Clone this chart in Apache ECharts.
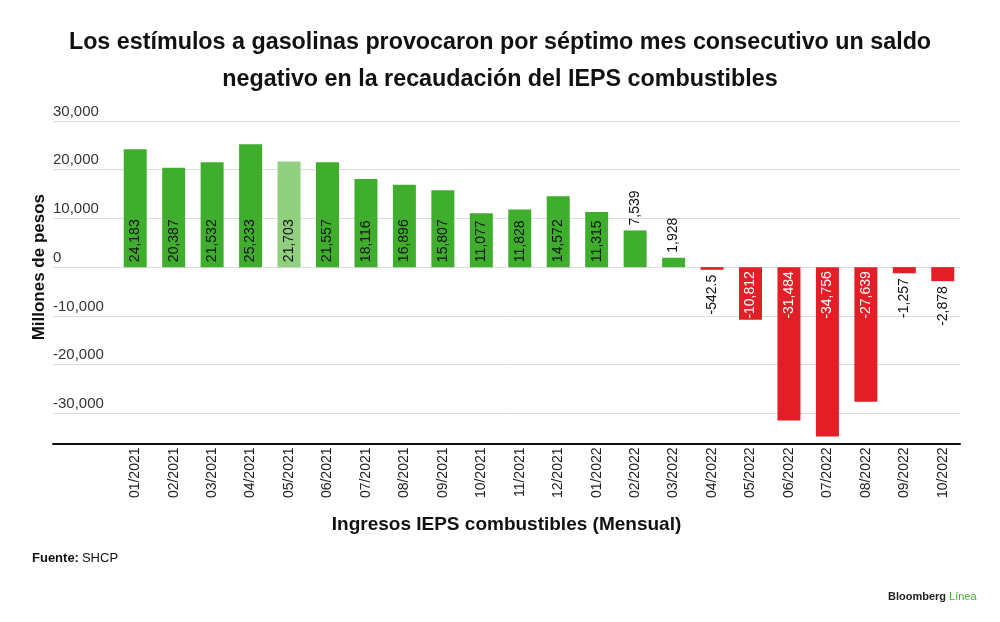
<!DOCTYPE html>
<html>
<head>
<meta charset="utf-8">
<script src="https://cdn.jsdelivr.net/npm/echarts@6/dist/echarts.min.js"></script>
<style>
  html, body { margin: 0; padding: 0; background: #fff; }
  #chart { width: 1000px; height: 622px; }
</style>
</head>
<body>
<div id="chart"></div>
<script>
// meses
var meses = ['01/2021','02/2021','03/2021','04/2021','05/2021','06/2021','07/2021','08/2021','09/2021','10/2021','11/2021','12/2021',
             '01/2022','02/2022','03/2022','04/2022','05/2022','06/2022','07/2022','08/2022','09/2022','10/2022'];
// recaudacion IEPS combustibles (millones de pesos)
var ingresos = [24183, 20387, 21532, 25233, 21703, 21557, 18116, 16896, 15807, 11077, 11828, 14572,
                11315, 7539, 1928, -542.5, -10812, -31484, -34756, -27639, -1257, -2878];
// etiquetas tal cual aparecen
var etiquetas = ['24,183','20,387','21,532','25,233','21,703','21,557','18,116','16,896','15,807','11,077','11,828','14,572',
                 '11,315','7,539','1,928','-542.5','-10,812','-31,484','-34,756','-27,639','-1,257','-2,878'];
var mesResaltado = '05/2021';

var verde = '#3fae2d';
var verdeClaro = '#8fcf7e';
var rojo = '#e31e26';
var fuente = '"Liberation Sans", Arial, sans-serif';

var datos = [];
for (var i = 0; i < ingresos.length; i++) {
    var v = ingresos[i];
    var dentro = Math.abs(v) >= 10000;
    var color = v < 0 ? rojo : (meses[i] === mesResaltado ? verdeClaro : verde);
    var lbl;
    if (v >= 0) {
        lbl = dentro
            ? { position: 'insideBottom', align: 'left', distance: 5, color: '#111' }
            : { position: 'top', align: 'left', distance: 5, color: '#111' };
    } else {
        lbl = dentro
            ? { position: 'insideTop', align: 'right', distance: 4, color: '#fff' }
            : { position: 'bottom', align: 'right', distance: 5, color: '#111' };
    }
    lbl.formatter = etiquetas[i];
    datos.push({ value: v, itemStyle: { color: color }, label: lbl });
}

var myChart = echarts.init(document.getElementById('chart'));
var option = {
    backgroundColor: '#fff',
    animation: false,
    title: [
        {
            text: 'Los estímulos a gasolinas provocaron por séptimo mes consecutivo un saldo\nnegativo en la recaudación del IEPS combustibles',
            left: 'center',
            top: 19,
            textStyle: { fontFamily: fuente, fontSize: 23.3, fontWeight: 'bold', color: '#111', lineHeight: 37 }
        },
        {
            text: '{b|Fuente:}{n|SHCP}',
            left: 27,
            top: 547,
            textStyle: {
                fontWeight: 'normal',
                rich: {
                    b: { fontFamily: fuente, fontSize: 13, fontWeight: 'bold', color: '#111', padding: [0, 3, 0, 0] },
                    n: { fontFamily: fuente, fontSize: 13, fontWeight: 'normal', color: '#111' }
                }
            }
        },
        {
            text: '{b|Bloomberg}{g|Línea}',
            left: 883,
            top: 586,
            textStyle: {
                fontWeight: 'normal',
                rich: {
                    b: { fontFamily: fuente, fontSize: 11, fontWeight: 'bold', color: '#222', padding: [0, 3, 0, 0] },
                    g: { fontFamily: fuente, fontSize: 11, fontWeight: 'normal', color: '#3fae2d' }
                }
            }
        }
    ],
    grid: [
        // lineas guia y eje
        { left: 53, right: 40, top: 121, bottom: 208.7 },
        // barras
        { left: 116, right: 38, top: 121, bottom: 179.5 }
    ],
    xAxis: [
        {
            gridIndex: 0,
            type: 'category',
            data: [],
            offset: 30,
            axisLine: { show: true, onZero: false, lineStyle: { color: '#111', width: 2 } },
            axisTick: { show: false },
            axisLabel: { show: false },
            name: 'Ingresos IEPS combustibles (Mensual)',
            nameLocation: 'middle',
            nameGap: 72,
            nameTextStyle: { fontFamily: fuente, fontSize: 19, fontWeight: 'bold', color: '#111' }
        },
        {
            gridIndex: 1,
            type: 'category',
            data: meses,
            axisLine: { show: false },
            axisTick: { show: false },
            axisLabel: { rotate: 90, margin: 5, fontFamily: fuente, fontSize: 14, color: '#222', interval: 0 }
        }
    ],
    yAxis: [
        {
            gridIndex: 0,
            type: 'value',
            min: -30000,
            max: 30000,
            interval: 10000,
            axisLine: { show: false },
            axisTick: { show: false },
            splitLine: { lineStyle: { color: '#dcdcdc', width: 1 } },
            axisLabel: {
                align: 'left',
                verticalAlign: 'bottom',
                margin: 0,
                padding: [0, 0, 2, 0],
                fontFamily: fuente,
                fontSize: 15,
                color: '#333',
                formatter: function (v) { return v.toLocaleString('en-US'); }
            },
            name: 'Millones de pesos',
            nameLocation: 'middle',
            nameRotate: 90,
            nameGap: 5,
            nameMoveOverlap: false,
            nameTextStyle: { fontFamily: fuente, fontSize: 17, fontWeight: 'bold', color: '#111' }
        },
        {
            gridIndex: 1,
            type: 'value',
            min: -36000,
            max: 30000,
            show: false,
            splitLine: { show: false }
        }
    ],
    series: [
        {
            name: 'Ingresos IEPS combustibles',
            type: 'bar',
            xAxisIndex: 1,
            yAxisIndex: 1,
            barWidth: 23,
            data: datos,
            label: {
                show: true,
                rotate: 90,
                verticalAlign: 'middle',
                fontFamily: fuente,
                fontSize: 14
            }
        }
    ]
};
myChart.setOption(option);
</script>
</body>
</html>
